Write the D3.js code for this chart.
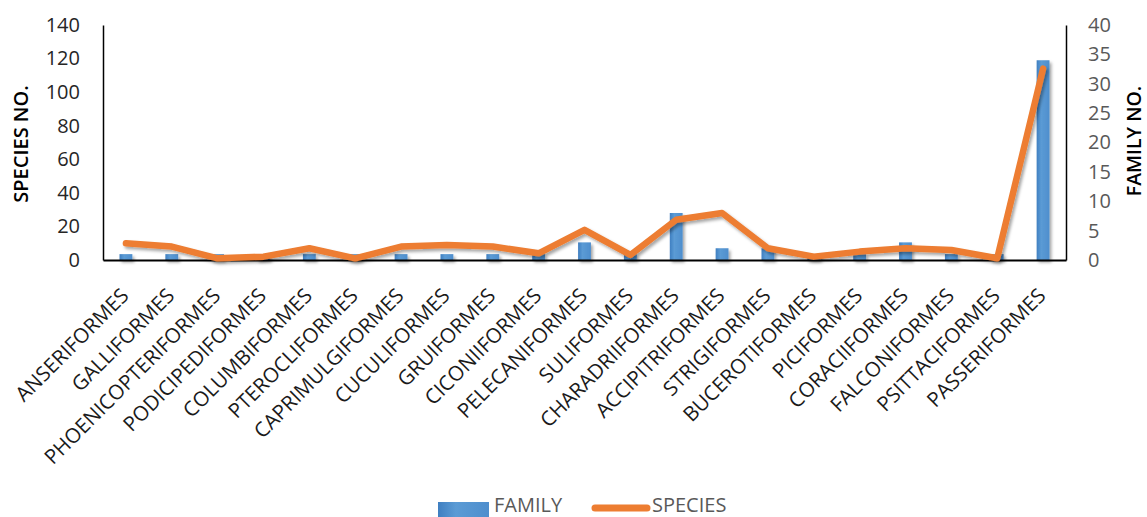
<!DOCTYPE html>
<html>
<head>
<meta charset="utf-8">
<script src="https://cdn.jsdelivr.net/npm/d3@7"></script>
<style>
  body { margin: 0; background: #fff; }
  svg { display: block; font-family: "Open Sans", sans-serif; }
</style>
</head>
<body>
<svg id="chart" width="1147" height="517"></svg>
<script>
const orders = [
  "ANSERIFORMES", "GALLIFORMES", "PHOENICOPTERIFORMES", "PODICIPEDIFORMES",
  "COLUMBIFORMES", "PTEROCLIFORMES", "CAPRIMULGIFORMES", "CUCULIFORMES",
  "GRUIFORMES", "CICONIIFORMES", "PELECANIFORMES", "SULIFORMES",
  "CHARADRIIFORMES", "ACCIPITRIFORMES", "STRIGIFORMES", "BUCEROTIFORMES",
  "PICIFORMES", "CORACIIFORMES", "FALCONIFORMES", "PSITTACIFORMES", "PASSERIFORMES"
];
// bars, right axis
const familyNo = [1, 1, 1, 1, 1, 1, 1, 1, 1, 1, 3, 1, 8, 2, 2, 1, 1, 3, 1, 1, 34];
// line, left axis
const speciesNo = [10, 8, 1, 2, 7, 1, 8, 9, 8, 4, 18, 3, 24, 28, 7, 2, 5, 7, 6, 1, 114];
const speciesTicks = [0, 20, 40, 60, 80, 100, 120, 140];
const familyTicks = [0, 5, 10, 15, 20, 25, 30, 35, 40];

function translate(x, y) {
  return `translate(${x}, ${y})`;
}

const plotLeft = 103, plotRight = 1066, plotTop = 25, plotBottom = 260;
const svg = d3.select("#chart");

const defs = svg.append("defs");
const grad = defs.append("linearGradient").attr("id", "barGrad")
  .attr("x1", 0).attr("x2", 1).attr("y1", 0).attr("y2", 0);
grad.append("stop").attr("offset", "0%").attr("stop-color", "#3f7fc1");
grad.append("stop").attr("offset", "35%").attr("stop-color", "#5b9bd5");
grad.append("stop").attr("offset", "100%").attr("stop-color", "#4e8ecd");
const shadow = defs.append("filter").attr("id", "shadow")
  .attr("x", "-20%").attr("y", "-20%").attr("width", "140%").attr("height", "140%");
shadow.append("feDropShadow").attr("dx", 2).attr("dy", 2.5).attr("stdDeviation", 1.6)
  .attr("flood-color", "#000").attr("flood-opacity", 0.35);

const x = d3.scaleBand()
  .domain(orders)
  .range([plotLeft, plotRight])
  .paddingInner(0.72)
  .paddingOuter(0.36);
const ySpecies = d3.scaleLinear().domain([0, 140]).range([plotBottom, plotTop]);
const yFamily = d3.scaleLinear().domain([0, 40]).range([plotBottom, plotTop]);
const cx = d => x(d) + x.bandwidth() / 2;

// bars
svg.append("g")
  .attr("filter", "url(#shadow)")
  .selectAll("rect")
  .data(orders)
  .join("rect")
  .attr("x", d => x(d))
  .attr("width", x.bandwidth())
  .attr("y", (d, i) => yFamily(familyNo[i]))
  .attr("height", (d, i) => plotBottom - yFamily(familyNo[i]))
  .attr("fill", "url(#barGrad)");

// axes
svg.append("g")
  .attr("transform", translate(plotLeft, 0))
  .call(d3.axisLeft(ySpecies).tickValues(speciesTicks).tickSize(0).tickPadding(23))
  .call(g => g.select(".domain").attr("stroke", "#000").attr("stroke-width", 1.5))
  .call(g => g.selectAll("text").attr("font-size", 20).attr("fill", "#262626")
    .attr("font-family", "Open Sans"));

svg.append("g")
  .attr("transform", translate(plotRight, 0))
  .call(d3.axisRight(yFamily).tickValues(familyTicks).tickSize(0).tickPadding(22))
  .call(g => g.select(".domain").attr("stroke", "#000").attr("stroke-width", 1.5))
  .call(g => g.selectAll("text").attr("font-size", 20).attr("fill", "#595959")
    .attr("font-family", "Open Sans"));

svg.append("g")
  .attr("transform", translate(0, plotBottom))
  .call(d3.axisBottom(x).tickSize(0).tickFormat(""))
  .call(g => g.select(".domain").attr("stroke", "#000").attr("stroke-width", 2.2));

// category labels
svg.append("g")
  .selectAll("text")
  .data(orders)
  .join("text")
  .attr("transform", d => translate(cx(d) + 4, 297) + " rotate(-45)")
  .attr("text-anchor", "end")
  .attr("font-size", 20.5)
  .attr("fill", "#1a1a1a")
  .text(d => d);

// species line
const line = d3.line()
  .x((d, i) => cx(orders[i]))
  .y(d => ySpecies(d));
svg.append("path")
  .datum(speciesNo)
  .attr("d", line)
  .attr("fill", "none")
  .attr("stroke", "#ed7d31")
  .attr("stroke-width", 6.5)
  .attr("stroke-linejoin", "round")
  .attr("stroke-linecap", "round")
  .attr("filter", "url(#shadow)");

// axis titles
svg.append("text")
  .attr("transform", translate(28, 144) + " rotate(-90)")
  .attr("text-anchor", "middle")
  .attr("font-size", 20)
  .attr("font-weight", 600)
  .attr("fill", "#000")
  .text("SPECIES NO.");
svg.append("text")
  .attr("transform", translate(1141, 141) + " rotate(-90)")
  .attr("text-anchor", "middle")
  .attr("font-size", 19.5)
  .attr("font-weight", 600)
  .attr("fill", "#000")
  .text("FAMILY NO.");

// legend
const legend = svg.append("g");
legend.append("rect")
  .attr("x", 438).attr("y", 502).attr("width", 51).attr("height", 15)
  .attr("fill", "url(#barGrad)");
legend.append("text")
  .attr("x", 494).attr("y", 512)
  .attr("font-size", 20).attr("fill", "#595959")
  .text("FAMILY");
legend.append("line")
  .attr("x1", 595).attr("x2", 647).attr("y1", 508).attr("y2", 508)
  .attr("stroke", "#ed7d31").attr("stroke-width", 7).attr("stroke-linecap", "round");
legend.append("text")
  .attr("x", 652).attr("y", 512)
  .attr("font-size", 20).attr("fill", "#595959")
  .text("SPECIES");
</script>
</body>
</html>
